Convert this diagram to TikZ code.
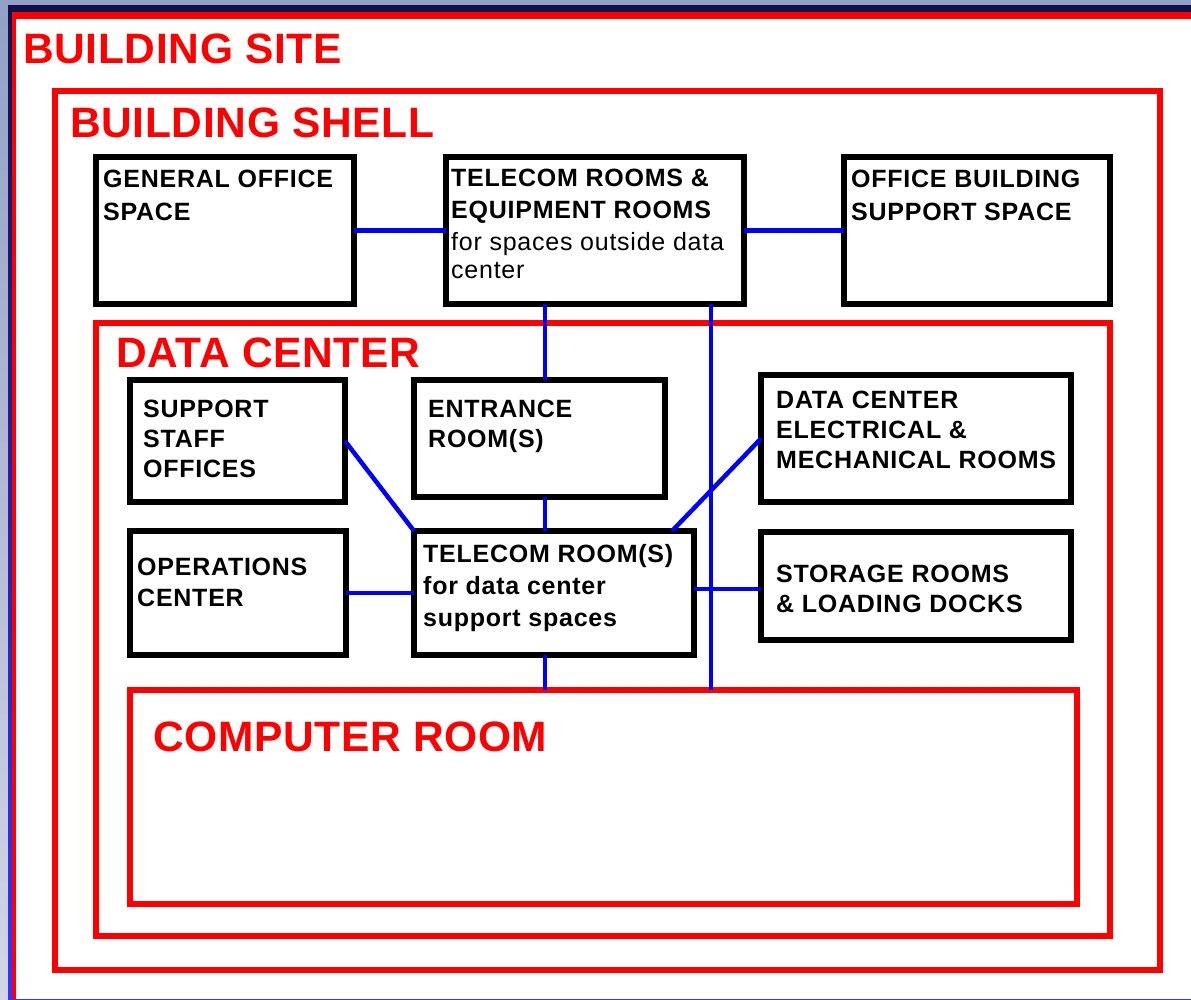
\documentclass[tikz,border=0pt]{standalone}
\usepackage{fontspec}
\setmainfont{Liberation Sans}
\newfontfamily\lblfont[LetterSpace=3]{Liberation Sans}
\newfontfamily\ttlfont[LetterSpace=1.5]{Liberation Sans}
\usetikzlibrary{calc}
\definecolor{bgA}{HTML}{939FC5}
\definecolor{bgB}{HTML}{D3D6E6}
\definecolor{navyA}{HTML}{12104A}
\definecolor{navyB}{HTML}{3535FF}
\begin{document}
\begin{tikzpicture}[x=1pt,y=-1pt,
  redframe/.style={draw=red, line width=5.5pt, inner sep=0pt, outer sep=0pt, anchor=north west},
  roombox/.style={draw=black, fill=white, line width=6pt, inner sep=0pt, outer sep=0pt, anchor=north west},
  link/.style={draw=blue, line width=4.5pt},
  ttl/.style={text=red, font=\ttlfont\fontsize{42.5}{50}\selectfont\bfseries, inner sep=0pt, anchor=base west},
  lbl/.style={font=\lblfont\fontsize{25}{#1}\selectfont\bfseries, inner sep=0pt, anchor=base west, align=left},
]
\useasboundingbox (0,0) rectangle (1191,999);
% background and site frame
\shade[top color=bgA, bottom color=bgB] (0,0) rectangle (1191,999);
\shade[top color=navyA, bottom color=navyB] (8,5) rectangle (1191,999);
\fill[red] (12,12) rectangle (1191,999);
\fill[white] (16,19) rectangle (1191,999);

% red frames
\node[redframe, minimum width=1105pt, minimum height=879pt] (shell) at (55,91) {};
\node[redframe, line width=6pt, minimum width=1014pt, minimum height=613pt] (dc) at (96,323) {};
\node[redframe, minimum width=947pt, minimum height=214pt] (cr) at (130,690) {};

% titles
\node[ttl] (tsite) at (23,63) {BUILDING SITE};
\node[ttl] (tshell) at (70,137) {BUILDING SHELL};
\node[ttl] (tdc) at (116,367) {DATA CENTER};
\node[ttl] (tcr) at (153,751) {COMPUTER ROOM};

% coordinates for vertical links
\coordinate (va) at (545,0);
\coordinate (vb) at (711,0);

% boxes
\node[roombox, minimum width=258pt, minimum height=147pt] (go) at (96,157) {};
\node[roombox, minimum width=298pt, minimum height=147pt] (tr) at (446,157) {};
\node[roombox, minimum width=266pt, minimum height=147pt] (obs) at (844,157) {};
\node[roombox, minimum width=215pt, minimum height=122pt] (sso) at (130,380) {};
\node[roombox, minimum width=251pt, minimum height=117pt] (er) at (414,380) {};
\node[roombox, minimum width=310pt, minimum height=127pt] (dce) at (761,375) {};
\node[roombox, minimum width=216pt, minimum height=124pt] (ops) at (130,531) {};
\node[roombox, minimum width=280pt, minimum height=124pt] (trs) at (414,531) {};
\node[roombox, minimum width=310pt, minimum height=108pt] (st) at (761,532) {};

% links
\draw[link] (go.east) -- (tr.west);
\draw[link] (tr.east) -- (obs.west);
\draw[link] (va |- tr.south) -- (va |- er.north);
\draw[link] (va |- er.south) -- (va |- trs.north);
\draw[link] (va |- trs.south) -- (va |- cr.north);
\draw[link] (vb |- tr.south) -- (vb |- cr.north);
\draw[link] (sso.east) -- (trs.north west);
\draw[link] (dce.west) -- ($(trs.north east)+(-22,0)$);
\draw[link] (ops.east) -- (trs.west);
\draw[link] ($(trs.east)+(0,-4)$) -- ($(st.west)+(0,3)$);

% labels (anchored at the baseline of their last line)
\node[lbl=33] (go-t) at (103,220) {GENERAL OFFICE\\SPACE};
\node[lbl=32] (tr-t) at (451,278) {TELECOM ROOMS \&\\EQUIPMENT ROOMS\\{\mdseries for spaces outside data}\\[-4pt]{\mdseries center}};
\node[lbl=33] (obs-t) at (851,220) {OFFICE BUILDING\\SUPPORT SPACE};
\node[lbl=30] (sso-t) at (143,477) {SUPPORT\\STAFF\\OFFICES};
\node[lbl=30] (er-t) at (428,447) {ENTRANCE\\ROOM(S)};
\node[lbl=30] (dce-t) at (776,468) {DATA CENTER\\ELECTRICAL \&\\MECHANICAL ROOMS};
\node[lbl=31] (ops-t) at (137,606) {OPERATIONS\\CENTER};
\node[lbl=32] (trs-t) at (423,626) {TELECOM ROOM(S)\\for data center\\support spaces};
\node[lbl=30] (st-t) at (776,612) {STORAGE ROOMS\\\& LOADING DOCKS};
\end{tikzpicture}
\end{document}
